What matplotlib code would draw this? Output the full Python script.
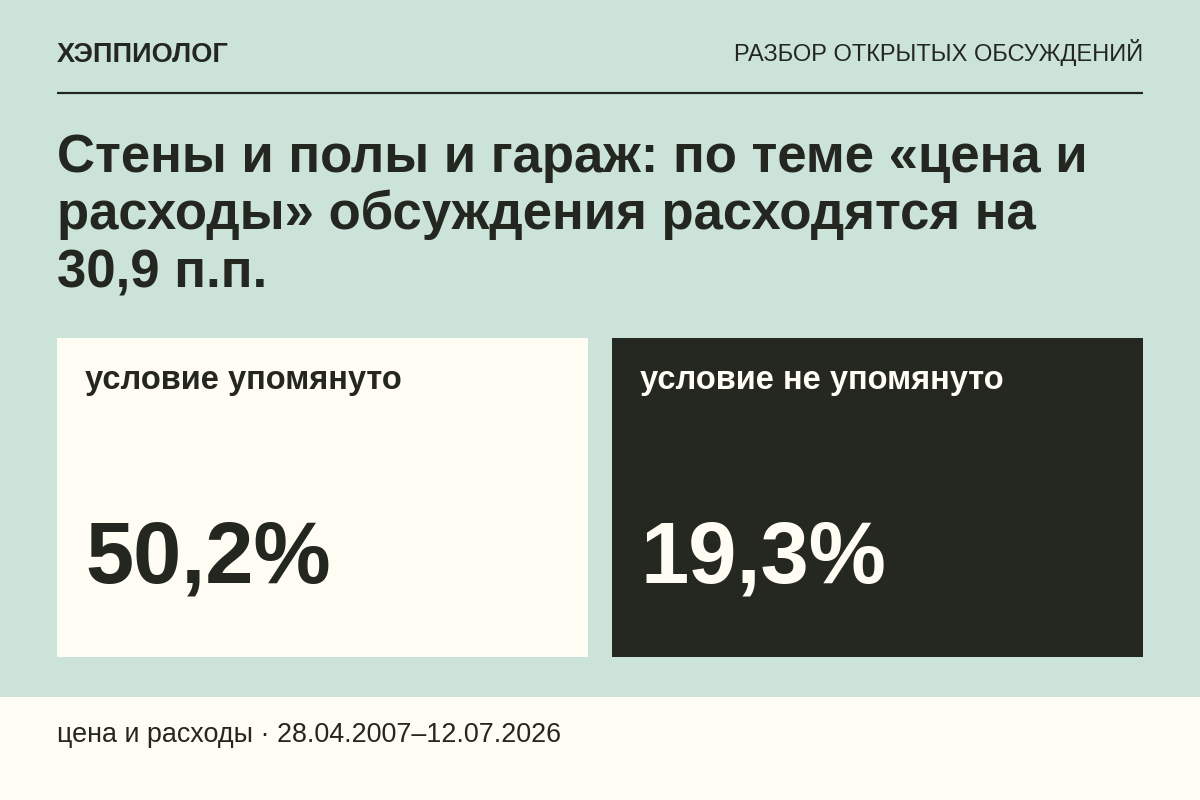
import matplotlib
matplotlib.use("Agg")
import matplotlib.pyplot as plt
from matplotlib.patches import Rectangle

# данные карточки
brand = "ХЭППИОЛОГ"
section = "РАЗБОР ОТКРЫТЫХ ОБСУЖДЕНИЙ"
title_lines = ["Стены и полы и гараж: по теме «цена и",
               "расходы» обсуждения расходятся на",
               "30,9 п.п."]
labels = ["условие упомянуто", "условие не упомянуто"]
values = [50.2, 19.3]
footer = "цена и расходы · 28.04.2007–12.07.2026"

bg = "#cce3d9"
cream = "#fffcf4"
dark = "#252821"
ink = "#23271f"

plt.rcParams['font.family'] = ['Liberation Sans', 'DejaVu Sans']

W, H = 1200, 800
fig = plt.figure(figsize=(12, 8), dpi=100)
fig.patch.set_facecolor(bg)
ax = fig.add_axes([0, 0, 1, 1])
ax.set_xlim(0, W)
ax.set_ylim(H, 0)
ax.axis("off")

# шапка
ax.text(57, 62, brand, fontsize=19.5, fontweight="bold", color=ink, va="baseline")
ax.text(1143, 61, section, fontsize=17, color=ink, va="baseline", ha="right")
ax.plot([57, 1143], [93, 93], color=ink, lw=1.6, solid_capstyle="butt")

# заголовок
for i, line in enumerate(title_lines):
    ax.text(57, 172 + i * 57.5, line, fontsize=38, fontweight="bold",
            color=ink, va="baseline")

# две карточки
box_x = [57, 612]
fills = [cream, dark]
txt_col = [ink, cream]
for x0, lab, val, fc, tc in zip(box_x, labels, values, fills, txt_col):
    ax.add_patch(Rectangle((x0, 338), 531, 319, facecolor=fc, edgecolor="none"))
    ax.text(x0 + 28, 389, lab, fontsize=23.5, fontweight="bold", color=tc,
            va="baseline")
    ax.text(x0 + 28, 583, f"{val:.1f}%".replace(".", ","), fontsize=62.5,
            fontweight="bold", color=tc, va="baseline")

# подвал
ax.add_patch(Rectangle((0, 697), W, H - 697, facecolor=cream, edgecolor="none"))
ax.text(57, 742, footer, fontsize=19.4, color=ink, va="baseline")

fig.savefig("out.png", dpi=100, facecolor=bg)
